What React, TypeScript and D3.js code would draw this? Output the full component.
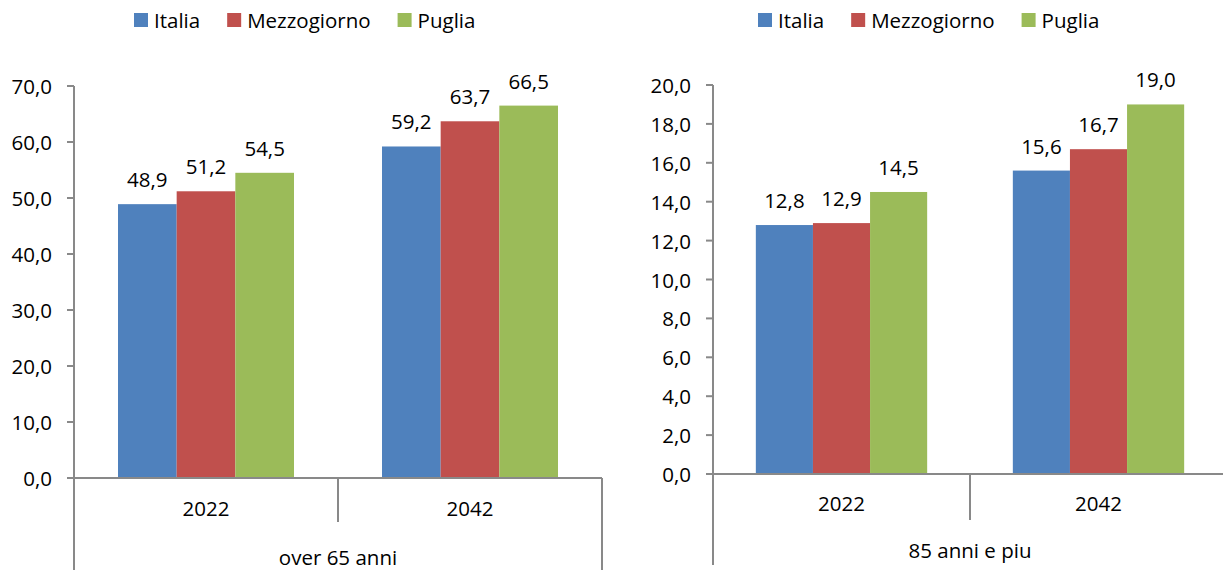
import React, { useEffect, useRef } from "react";
import * as d3 from "d3";

const categories = ["2022", "2042"];
const seriesNames = ["Italia", "Mezzogiorno", "Puglia"];
const seriesColors = ["#4F81BD", "#C0504D", "#9BBB59"];

const italia65 = [48.9, 59.2];
const mezzogiorno65 = [51.2, 63.7];
const puglia65 = [54.5, 66.5];

const italia85 = [12.8, 15.6];
const mezzogiorno85 = [12.9, 16.7];
const puglia85 = [14.5, 19.0];

const ticks65 = [0, 10, 20, 30, 40, 50, 60, 70];
const ticks85 = [0, 2, 4, 6, 8, 10, 12, 14, 16, 18, 20];

const groupLabel65 = "over 65 anni";
const groupLabel85 = "85 anni e piu";

const FONT = "'Open Sans', sans-serif";
const FS = 20.5;
const AXIS = "#898989";

const fmt = (v: number) => d3.format(".1f")(v).replace(".", ",");

type Panel = {
  values: number[][];
  ticks: number[];
  max: number;
  groupLabel: string;
  x0: number;
  x1: number;
  yTop: number;
  yBottom: number;
  catLabelY: number;
  groupLabelY: number;
  lineBottom: number;
  sepBottom: number;
  legendX: number;
};

const panels: Panel[] = [
  {
    values: [italia65, mezzogiorno65, puglia65],
    ticks: ticks65,
    max: 70,
    groupLabel: groupLabel65,
    x0: 74,
    x1: 602,
    yTop: 86,
    yBottom: 478,
    catLabelY: 508,
    groupLabelY: 557,
    lineBottom: 570,
    sepBottom: 522,
    legendX: 134,
  },
  {
    values: [italia85, mezzogiorno85, puglia85],
    ticks: ticks85,
    max: 20,
    groupLabel: groupLabel85,
    x0: 713,
    x1: 1227,
    yTop: 85,
    yBottom: 474,
    catLabelY: 503,
    groupLabelY: 550,
    lineBottom: 565,
    sepBottom: 520,
    legendX: 758,
  },
];

export default function App() {
  const ref = useRef<SVGSVGElement | null>(null);

  useEffect(() => {
    const svg = d3.select(ref.current);
    svg.selectAll("*").remove();

    panels.forEach((p) => {
      const g = svg.append("g");
      const y = d3.scaleLinear().domain([0, p.max]).range([p.yBottom, p.yTop]);
      const x = d3.scaleBand<string>().domain(categories).range([p.x0, p.x1]).padding(0);
      const cw = x.bandwidth();

      // bars
      categories.forEach((cat, ci) => {
        const cx = x(cat) as number;
        const inner = d3
          .scaleBand<string>()
          .domain(seriesNames)
          .range([cx + cw / 6, cx + (cw * 5) / 6])
          .padding(0);
        seriesNames.forEach((s, si) => {
          const v = p.values[si][ci];
          const bx = inner(s) as number;
          g.append("rect")
            .attr("x", bx)
            .attr("y", y(v))
            .attr("width", inner.bandwidth())
            .attr("height", y(0) - y(v))
            .attr("fill", seriesColors[si]);
          g.append("text")
            .attr("x", bx + inner.bandwidth() / 2)
            .attr("y", y(v) - 25)
            .attr("text-anchor", "middle")
            .attr("dominant-baseline", "central")
            .attr("font-family", FONT)
            .attr("font-size", FS)
            .attr("fill", "#000")
            .text(fmt(v));
        });
        // category label
        g.append("text")
          .attr("x", cx + cw / 2)
          .attr("y", p.catLabelY)
          .attr("text-anchor", "middle")
          .attr("dominant-baseline", "central")
          .attr("font-family", FONT)
          .attr("font-size", FS)
          .attr("fill", "#000")
          .text(cat);
      });

      // y axis line
      g.append("line")
        .attr("x1", p.x0)
        .attr("x2", p.x0)
        .attr("y1", y(p.max))
        .attr("y2", p.lineBottom)
        .attr("stroke", AXIS)
        .attr("stroke-width", 2);
      // ticks
      p.ticks.forEach((t) => {
        g.append("line")
          .attr("x1", p.x0 - 7)
          .attr("x2", p.x0)
          .attr("y1", y(t))
          .attr("y2", y(t))
          .attr("stroke", AXIS)
          .attr("stroke-width", 2);
        g.append("text")
          .attr("x", p.x0 - 22)
          .attr("y", y(t))
          .attr("text-anchor", "end")
          .attr("dominant-baseline", "central")
          .attr("font-family", FONT)
          .attr("font-size", FS)
          .attr("fill", "#000")
          .text(fmt(t));
      });
      // x axis line
      g.append("line")
        .attr("x1", p.x0)
        .attr("x2", p.x1)
        .attr("y1", y(0))
        .attr("y2", y(0))
        .attr("stroke", AXIS)
        .attr("stroke-width", 2);
      // separator between categories
      g.append("line")
        .attr("x1", (x(categories[1]) as number))
        .attr("x2", (x(categories[1]) as number))
        .attr("y1", y(0))
        .attr("y2", p.sepBottom)
        .attr("stroke", AXIS)
        .attr("stroke-width", 2);
      // right edge
      g.append("line")
        .attr("x1", p.x1)
        .attr("x2", p.x1)
        .attr("y1", y(0))
        .attr("y2", p.lineBottom)
        .attr("stroke", AXIS)
        .attr("stroke-width", 2);
      // group label
      g.append("text")
        .attr("x", (p.x0 + p.x1) / 2)
        .attr("y", p.groupLabelY)
        .attr("text-anchor", "middle")
        .attr("dominant-baseline", "central")
        .attr("font-family", FONT)
        .attr("font-size", FS)
        .attr("fill", "#000")
        .text(p.groupLabel);

      // legend
      let lx = p.legendX;
      seriesNames.forEach((s, si) => {
        g.append("rect")
          .attr("x", lx)
          .attr("y", 13)
          .attr("width", 14)
          .attr("height", 14)
          .attr("fill", seriesColors[si]);
        const t = g
          .append("text")
          .attr("x", lx + 20)
          .attr("y", 20)
          .attr("dominant-baseline", "central")
          .attr("font-family", FONT)
          .attr("font-size", FS)
          .attr("fill", "#000")
          .text(s);
        const w = (t.node() as SVGTextElement).getComputedTextLength();
        lx = lx + 20 + w + 27;
      });
    });
  }, []);

  return (
    <svg
      ref={ref}
      width={1223}
      height={570}
      style={{ position: "absolute", left: 0, top: 0, display: "block", background: "#fff" }}
    />
  );
}
